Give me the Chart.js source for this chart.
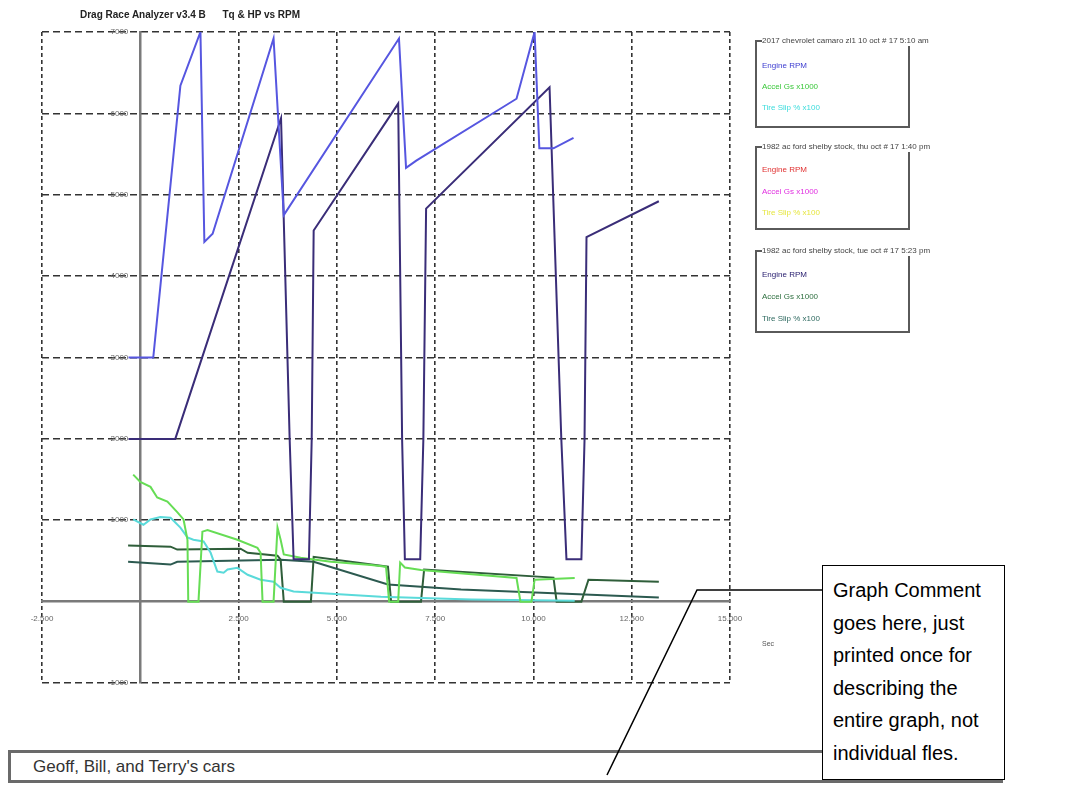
<!DOCTYPE html>
<html><head><meta charset="utf-8">
<script src="https://cdn.jsdelivr.net/npm/chart.js@4.4.0/dist/chart.umd.min.js"></script>
<style>
html,body{margin:0;padding:0;background:#fff;}
body{width:1066px;height:791px;position:relative;overflow:hidden;font-family:Arial,"Liberation Sans",sans-serif;}
#wrap{position:absolute;left:0;top:0;width:1066px;height:791px;}
.title{position:absolute;left:80px;top:9px;font-weight:bold;font-size:10px;color:#222;white-space:pre;}
.lg{position:absolute;left:755px;width:155px;border:2px solid #5a5a5a;box-sizing:border-box;}
.lg .t{position:absolute;left:5px;top:-6px;font-size:8px;color:#444;background:#fff;white-space:nowrap;padding-right:2px;line-height:10px;}
.lg .i{position:absolute;left:5px;font-size:8px;white-space:nowrap;line-height:10px;}
.sec{position:absolute;left:762px;top:640px;font-size:7px;color:#555;}
.comment{position:absolute;left:822px;top:565px;width:183px;height:215px;box-sizing:border-box;border:1.5px solid #000;background:#fff;padding:8px 0 0 10px;font-size:20px;line-height:32.6px;color:#000;z-index:3;}
.note{position:absolute;left:8px;top:750px;width:995px;height:33px;box-sizing:border-box;border:3px solid #6a6a6a;background:#fff;font-size:17px;line-height:27px;color:#333;padding-left:22px;}
svg{position:absolute;left:0;top:0;z-index:4;}
</style></head>
<body>
<div id="wrap"><canvas id="c" width="1066" height="791"></canvas></div>
<div class="title">Drag Race Analyzer v3.4 B      Tq &amp; HP vs RPM</div>

<div class="lg" style="top:40px;height:88px;">
  <div class="t">2017 chevrolet camaro zl1 10 oct # 17 5:10 am</div>
  <div class="i" style="top:19px;color:#3c3cd0;">Engine RPM</div>
  <div class="i" style="top:40px;color:#3cc83c;">Accel Gs x1000</div>
  <div class="i" style="top:61px;color:#3cdcdc;">Tire Slip % x100</div>
</div>
<div class="lg" style="top:146px;height:84px;">
  <div class="t">1982 ac ford shelby stock, thu oct # 17 1:40 pm</div>
  <div class="i" style="top:17px;color:#e03030;">Engine RPM</div>
  <div class="i" style="top:39px;color:#e030e0;">Accel Gs x1000</div>
  <div class="i" style="top:60px;color:#e6e640;">Tire Slip % x100</div>
</div>
<div class="lg" style="top:250px;height:83px;">
  <div class="t">1982 ac ford shelby stock, tue oct # 17 5:23 pm</div>
  <div class="i" style="top:18px;color:#2a2070;">Engine RPM</div>
  <div class="i" style="top:40px;color:#2f7040;">Accel Gs x1000</div>
  <div class="i" style="top:62px;color:#2f6a60;">Tire Slip % x100</div>
</div>
<div class="sec">Sec</div>
<div class="note">Geoff, Bill, and Terry's cars</div>
<div class="comment">Graph Comment<br>goes here, just<br>printed once for<br>describing the<br>entire graph, not<br>individual fles.</div>
<svg width="1066" height="791"><polyline points="822,590 697,590 607,775" fill="none" stroke="#000" stroke-width="1.5"/></svg>

<script>
// ---- data (time in sec, values) ----
const rpm1T = [-0.3, 0.33, 1.02, 1.53, 1.63, 1.84, 3.39, 3.65, 6.58, 6.76, 7.02, 9.57, 10.03, 10.15, 10.51, 11.02];
const rpm1V = [3000, 3000, 6340, 7000, 4420, 4520, 6920, 4750, 6920, 5330, 5420, 6180, 7000, 5570, 5570, 5700];

const accel1T = [-0.18, 0, 0.26, 0.43, 0.69, 0.94, 1.10, 1.20, 1.22, 1.48, 1.58, 1.71, 2.47, 2.98, 3.06, 3.11, 3.39, 3.49, 3.57, 3.65, 4.08, 4.85, 5.87, 6.25, 6.33, 6.56, 6.61, 6.73, 7.14, 9.57, 9.67, 9.95, 10.03, 11.05];
const accel1V = [1560, 1470, 1410, 1280, 1230, 1100, 1010, 760, 0, 0, 860, 880, 760, 660, 600, 0, 0, 910, 760, 580, 540, 490, 450, 430, 0, 0, 480, 420, 390, 290, 0, 0, 270, 290];

const slip1T = [-0.18, 0.08, 0.26, 0.51, 0.77, 1.02, 1.20, 1.35, 1.61, 1.79, 1.96, 2.12, 2.22, 2.47, 2.73, 3.06, 3.39, 3.57, 3.90, 6.12, 8.42, 11.05];
const slip1V = [1010, 945, 1010, 1040, 1030, 910, 790, 760, 740, 600, 370, 355, 395, 415, 330, 270, 245, 170, 125, 60, 25, 12];

const rpm3T = [-0.3, 0.89, 3.58, 3.80, 3.90, 4.29, 4.36, 4.41, 6.56, 6.66, 6.73, 7.12, 7.20, 7.27, 10.41, 10.71, 10.84, 11.22, 11.30, 11.35, 13.19];
const rpm3V = [2000, 2000, 5940, 1990, 520, 520, 1990, 4560, 6120, 1990, 520, 520, 1990, 4830, 6320, 1990, 520, 520, 1990, 4480, 4920];

const accel3T = [-0.31, 0.77, 0.94, 2.55, 2.73, 3.49, 3.57, 3.65, 4.34, 4.41, 6.30, 6.38, 7.14, 7.22, 10.51, 10.59, 11.22, 11.40, 13.19];
const accel3V = [690, 675, 640, 650, 600, 565, 515, 0, 0, 550, 430, 0, 0, 395, 295, 0, 0, 270, 245];

const slip3T = [-0.31, 0.77, 0.94, 3.57, 4.41, 6.30, 8.16, 13.19];
const slip3V = [490, 455, 490, 515, 490, 210, 150, 50];

const xTicks = [-2.5, 0, 2.5, 5, 7.5, 10, 12.5, 15];
const yTicks = [-1000, 0, 1000, 2000, 3000, 4000, 5000, 6000, 7000];

function pts(t, v) { return t.map((x, i) => ({x: x, y: v[i]})); }

const series = [
  {label: 'Engine RPM (2017)', t: rpm1T, v: rpm1V, color: '#5656e0'},
  {label: 'Engine RPM (1982 tue)', t: rpm3T, v: rpm3V, color: '#3a2d78'},
  {label: 'Accel Gs x1000 (2017)', t: accel1T, v: accel1V, color: '#66dd55'},
  {label: 'Tire Slip % x100 (2017)', t: slip1T, v: slip1V, color: '#5adada'},
  {label: 'Accel Gs x1000 (1982 tue)', t: accel3T, v: accel3V, color: '#2f5e3a'},
  {label: 'Tire Slip % x100 (1982 tue)', t: slip3T, v: slip3V, color: '#2c5a50'}
];

new Chart(document.getElementById('c'), {
  type: 'scatter',
  data: {
    datasets: series.map(s => ({
      label: s.label, data: pts(s.t, s.v), showLine: true,
      borderColor: s.color, backgroundColor: s.color, borderWidth: 2,
      pointRadius: 0, tension: 0, fill: false
    }))
  },
  options: {
    responsive: false, animation: false,
    layout: {padding: {left: 42, top: 32, right: 336, bottom: 108}},
    plugins: {legend: {display: false}, tooltip: {enabled: false}, title: {display: false}},
    scales: {
      x: {
        type: 'linear', position: {y: 0}, min: -2.5, max: 15,
        afterBuildTicks: ax => { ax.ticks = xTicks.map(v => ({value: v})); },
        ticks: {
          autoSkip: false, maxRotation: 0, color: '#666', padding: 12,
          font: {family: 'Arial, "Liberation Sans", sans-serif', size: 8},
          callback: v => v === 0 ? '' : v.toFixed(3)
        },
        grid: {color: c => (c.tick && c.tick.value === 0) ? 'rgba(0,0,0,0)' : '#333', lineWidth: 1.6, drawTicks: false},
        border: {display: true, color: '#7a7a7a', width: 2.5, dash: [4, 3]}
      },
      y: {
        type: 'linear', position: {x: 0}, min: -1000, max: 7000,
        afterBuildTicks: ax => { ax.ticks = yTicks.map(v => ({value: v})); },
        ticks: {
          autoSkip: false, color: '#666', padding: 0,
          font: {family: 'Arial, "Liberation Sans", sans-serif', size: 8},
          callback: v => v === 0 ? '' : String(v) + '\u2002\u2002\u2002'
        },
        grid: {color: c => (c.tick && c.tick.value === 0) ? 'rgba(0,0,0,0)' : '#333', lineWidth: 1.6, drawTicks: false},
        border: {display: true, color: '#7a7a7a', width: 2.5, dash: [7, 4]}
      }
    }
  }
});
</script>
</body></html>
